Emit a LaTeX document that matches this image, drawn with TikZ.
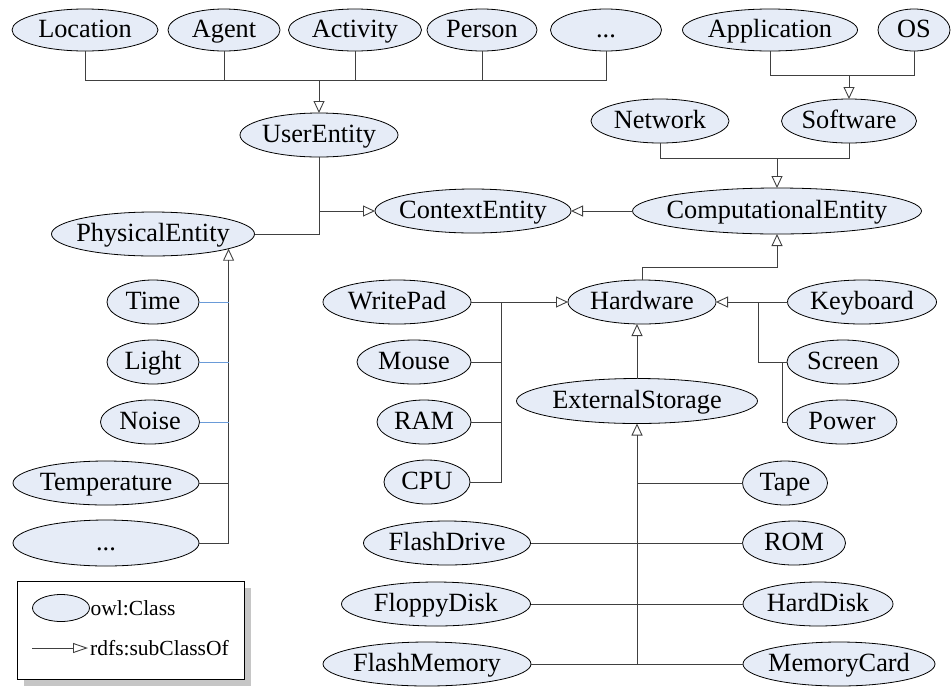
\documentclass[tikz,border=0pt]{standalone}
\usepackage{fontspec}
\setmainfont{Liberation Serif}
\usetikzlibrary{shapes.geometric, arrows.meta, positioning}
\definecolor{clsfill}{HTML}{E6ECF7}
\definecolor{linkgray}{HTML}{404040}
\definecolor{linkblue}{HTML}{6A9BD8}
\tikzset{
  cls/.style={ellipse, draw=black, fill=clsfill, line width=0.8pt, inner sep=0pt, outer sep=0pt,
    minimum height=44pt, minimum width=#1pt, font=\fontsize{26.3}{28}\selectfont,
    text height=14pt, text depth=0pt,
    execute at begin node={\hbox to 0pt\bgroup\hss}, execute at end node={\hss\egroup}},
  toprow/.style={minimum height=42pt},
  link/.style={draw=linkgray, line width=0.9pt},
  bluelink/.style={draw=linkblue, line width=0.9pt},
  sub/.style={link, -{Triangle[open, length=12pt, width=11pt]}},
  legtext/.style={inner sep=0pt, font=\fontsize{21.5}{24}\selectfont},
}
\begin{document}
\begin{tikzpicture}[x=1pt, y=-1pt]
\useasboundingbox (0,0) rectangle (952,686);

% User entities
\node[cls=146, toprow] (loc) at (85,30) {Location};
\node[cls=112, toprow] (agt) at (224,30) {Agent};
\node[cls=133, toprow] (act) at (355,30) {Activity};
\node[cls=110, toprow] (per) at (482,30) {Person};
\node[cls=111, toprow] (umore) at (606,30) {...};
\node[cls=158] (usr) at (319,135) {UserEntity};
\coordinate (ubus) at (319,80);
\draw[link] (loc.south) |- (umore.south |- ubus) -- (umore.south);
\foreach \n in {agt,act,per} \draw[link] (\n.south) -- (\n.south |- ubus);
\draw[sub] (ubus) -- (usr.north);

% Software and network
\node[cls=175, toprow] (app) at (770,30) {Application};
\node[cls=72, toprow] (os) at (914,30) {OS};
\node[cls=138] (net) at (660,121) {Network};
\node[cls=135] (sw) at (849,121) {Software};
\coordinate (sbus) at (849,75);
\draw[link] (app.south) |- (os.south |- sbus) -- (os.south);
\draw[sub] (sbus) -- (sw.north);

% Computational and context
\node[cls=289, minimum height=46pt] (comp) at (777,211) {ComputationalEntity};
\node[cls=196] (ctx) at (473,211) {ContextEntity};
\coordinate (cbus) at (777,158);
\draw[link] (net.south) |- (sw.south |- cbus) -- (sw.south);
\draw[sub] (cbus) -- (comp.north);
\draw[sub] (comp.west) -- (ctx.east);

% Physical entities
\node[cls=203] (phy) at (153,234) {PhysicalEntity};
\draw[link] (usr.south) |- (phy.east);
\draw[sub] (usr.south |- ctx.west) -- (ctx.west);
\node[cls=92] (time) at (153,302) {Time};
\node[cls=92] (light) at (153,362) {Light};
\node[cls=99] (noise) at (150,422) {Noise};
\node[cls=186] (temp) at (106,483) {Temperature};
\node[cls=186, minimum height=46pt] (pmore) at (106,543) {...};
\draw[sub] (pmore.east) -| (phy.-11);
\foreach \n in {time,light,noise} \draw[bluelink] (\n.east) -- (\n.east -| phy.-11);
\draw[link] (temp.east) -- (temp.east -| phy.-11);

% Hardware
\node[cls=148] (hw) at (642,302) {Hardware};
\draw[sub] (hw.north) |- (comp.south |- 0,267) -- (comp.south);
\node[cls=149] (kb) at (862,302) {Keyboard};
\node[cls=112] (scr) at (843,362) {Screen};
\node[cls=110] (pow) at (842,422) {Power};
\draw[sub] (kb.west) -- (hw.east);
\draw[link] (kb.west -| 758,0) |- (scr.west);
\draw[link] (scr.west -| 782,0) |- (pow.west);
\node[cls=148] (wp) at (397,302) {WritePad};
\node[cls=114] (mou) at (414,362) {Mouse};
\node[cls=94] (ram) at (424,422) {RAM};
\node[cls=86] (cpu) at (427,482) {CPU};
\draw[sub] (wp.east) -- (hw.west);
\draw[link] (cpu.east) -| (wp.east -| 501,0);
\foreach \n in {mou,ram} \draw[link] (\n.east) -- (\n.east -| 501,0);

% External storage
\node[cls=241, minimum height=45pt] (ext) at (637,401) {ExternalStorage};
\draw[sub] (ext.north) -- (ext.north |- hw.south);
\node[cls=85] (tape) at (785,483) {Tape};
\node[cls=103] (rom) at (794,543) {ROM};
\node[cls=150] (hd) at (818,604) {HardDisk};
\node[cls=192] (mc) at (839,664) {MemoryCard};
\node[cls=167] (fd) at (447,543) {FlashDrive};
\node[cls=189] (fld) at (436,604) {FloppyDisk};
\node[cls=208] (fm) at (427,664) {FlashMemory};
\draw[sub] (ext.south |- mc.west) -- (ext.south);
\draw[link] (tape.west) -- (tape.west -| ext.south);
\draw[link] (fd.east) -- (rom.west);
\draw[link] (fld.east) -- (hd.west);
\draw[link] (fm.east) -- (mc.west);

% Legend
\fill[gray!45] (24,588) rectangle (251,686);
\draw[fill=white, line width=0.8pt] (17,581) rectangle (244,679);
\node[cls=57, minimum height=27pt] (legcls) at (61,608) {};
\node[legtext, right=1pt of legcls] (legclstxt) {owl:Class};
\coordinate (legA) at (32,648);
\coordinate (legB) at (88,648);
\draw[link, -{Triangle[open, length=15pt, width=10pt]}] (legA) -- (legB);
\node[legtext, right=2pt of legB] (legsubtxt) {rdfs:subClassOf};
\end{tikzpicture}
\end{document}
